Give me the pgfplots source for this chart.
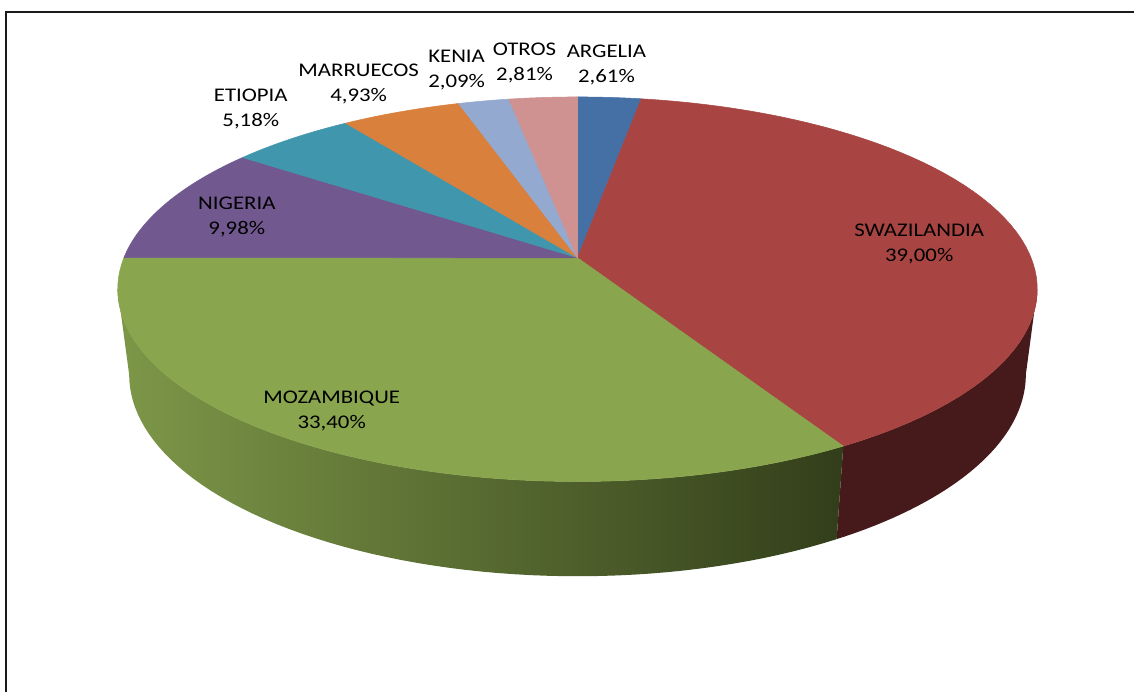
\documentclass[border=0pt]{standalone}
\usepackage{pgfplots}
\pgfplotsset{compat=1.18}
\usepackage{pgfplotstable}
\usepackage{fontspec}
\setmainfont{Carlito}[FakeStretch=1.18]

\pgfplotstableread{
name value
ARGELIA 2.61
SWAZILANDIA 39.00
MOZAMBIQUE 33.40
NIGERIA 9.98
ETIOPIA 5.18
MARRUECOS 4.93
KENIA 2.09
OTROS 2.81
}\piedata

\definecolor{c0}{HTML}{4470A5}
\definecolor{c1}{HTML}{A84543}
\definecolor{c2}{HTML}{89A54E}
\definecolor{c3}{HTML}{71588F}
\definecolor{c4}{HTML}{4096AD}
\definecolor{c5}{HTML}{D9803C}
\definecolor{c6}{HTML}{93A9CF}
\definecolor{c7}{HTML}{D09191}
\definecolor{side1}{HTML}{461A1A}
\definecolor{sideL}{HTML}{7D9748}
\definecolor{sideR}{HTML}{323E1A}
\definecolor{frame}{HTML}{1A1A1A}

\tikzset{lbl/.style={font=\fontsize{14.5}{18.75}\selectfont, align=center, inner sep=0pt, text=black}}

% perspective projection of the pie (pixel coordinates, y downwards)
\def\PB{0.1636}
\newcommand\px[1]{578+454*sin(#1)/(1+\PB*cos(#1))}
\newcommand\py[1]{258-187.3*cos(#1)/(1+\PB*cos(#1))}
\newcommand\bx[1]{578+442.7*sin(#1)/(1+\PB*cos(#1))}
\newcommand\by[1]{258-182.6*cos(#1)/(1+\PB*cos(#1))+84/(1+\PB*cos(#1))}
\newcommand\ang[2]{(\csname sA#1\endcsname+(\csname sB#1\endcsname-\csname sA#1\endcsname)*#2/60)}

\newcommand\topslice[1]{%
  \filldraw[fill=c#1,draw=c#1,line width=0.4pt,line join=round]
    (axis cs:578,258) foreach \i in {0,...,60} {
      -- (axis cs:{\px{\ang{#1}{\i}}},{\py{\ang{#1}{\i}}}) } -- cycle;}

\begin{document}
\begin{tikzpicture}
\def\cum{0}%
\pgfplotsforeachungrouped \k in {0,...,7}{%
  \pgfplotstablegetelem{\k}{value}\of\piedata
  \pgfmathsetmacro\tmpA{3.6*\cum}%
  \pgfmathsetmacro\cumnew{\cum+\pgfplotsretval}%
  \pgfmathsetmacro\tmpB{3.6*\cumnew}%
  \expandafter\xdef\csname sA\k\endcsname{\tmpA}%
  \expandafter\xdef\csname sB\k\endcsname{\tmpB}%
  \xdef\cum{\cumnew}%
}%
% visible side ranges (silhouette at acos(-PB))
\pgfmathsetmacro\silR{acos(-\PB)}%
\pgfmathsetmacro\silL{360-\silR}%
\pgfmathsetmacro\swLo{max(\csname sA1\endcsname,\silR)}%
\pgfmathsetmacro\swHi{min(\csname sB1\endcsname,\silL)}%
\pgfmathsetmacro\mzLo{max(\csname sA2\endcsname,\silR)}%
\pgfmathsetmacro\mzHi{min(\csname sB2\endcsname,\silL)}%
\begin{axis}[
  hide axis, scale only axis,
  width=851.25pt, height=519.75pt,
  xmin=0, xmax=1135, ymin=0, ymax=693,
  y dir=reverse, clip=false
]
\path (axis cs:0,0) rectangle (axis cs:1135,693);
% frame
\draw[frame,line width=1.5pt] (axis cs:6.3,693) -- (axis cs:6.3,12) -- (axis cs:1135,12);
% side of SWAZILANDIA
\fill[side1] (axis cs:{\px{\swLo}},{\py{\swLo}})
  foreach \i in {1,...,50} { -- (axis cs:{\px{\swLo+(\swHi-\swLo)*\i/50}},{\py{\swLo+(\swHi-\swLo)*\i/50}}) }
  foreach \i in {0,...,50} { -- (axis cs:{\bx{\swHi-(\swHi-\swLo)*\i/50}},{\by{\swHi-(\swHi-\swLo)*\i/50}}) }
  -- cycle;
% side of MOZAMBIQUE
\shade[left color=sideL,right color=sideR] (axis cs:{\px{\mzLo}},{\py{\mzLo}})
  foreach \i in {1,...,60} { -- (axis cs:{\px{\mzLo+(\mzHi-\mzLo)*\i/60}},{\py{\mzLo+(\mzHi-\mzLo)*\i/60}}) }
  foreach \i in {0,...,60} { -- (axis cs:{\bx{\mzHi-(\mzHi-\mzLo)*\i/60}},{\by{\mzHi-(\mzHi-\mzLo)*\i/60}}) }
  -- cycle;
% top faces
\pgfplotsinvokeforeach{0,...,7}{\topslice{#1}}
% labels
\node[lbl] at (axis cs:607,65) {ARGELIA\\2,61\%};
\node[lbl] at (axis cs:525,63) {OTROS\\2,81\%};
\node[lbl] at (axis cs:457,70.5) {KENIA\\2,09\%};
\node[lbl] at (axis cs:359,84) {MARRUECOS\\4,93\%};
\node[lbl] at (axis cs:251,109.5) {ETIOPIA\\5,18\%};
\node[lbl] at (axis cs:237,217) {NIGERIA\\9,98\%};
\node[lbl] at (axis cs:920,244) {SWAZILANDIA\\39,00\%};
\node[lbl] at (axis cs:332,411) {MOZAMBIQUE\\33,40\%};
\end{axis}
\end{tikzpicture}
\end{document}
